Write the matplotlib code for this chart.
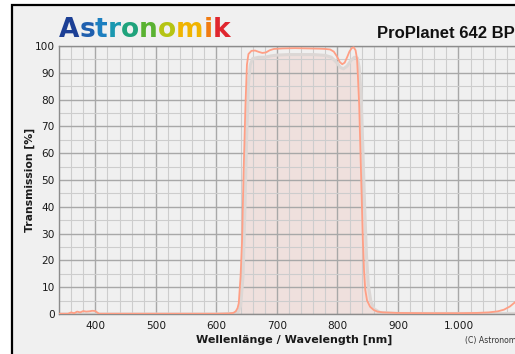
import matplotlib
matplotlib.use('Agg')
import matplotlib.pyplot as plt
from matplotlib.ticker import FixedLocator, MultipleLocator, FuncFormatter
from matplotlib.patches import Rectangle

# ProPlanet 642 BP transmission curve (orange)
wavelength = [340, 355, 360, 365, 370, 375, 380, 385, 390, 395, 400, 403, 406, 410,
              450, 500, 550, 600, 620, 628, 632, 635, 637, 640, 642.5, 645, 648,
              650.5, 653, 658, 664, 670, 676, 682, 688, 695, 710, 730, 750, 770,
              780, 788, 794, 799, 804, 808, 812, 816, 820, 824, 827, 830, 832.5,
              834, 836, 839, 842, 844, 846, 849, 854, 860, 866, 875, 900, 950,
              1000, 1030, 1050, 1065, 1075, 1085, 1094, 1100]
transmission = [0.1, 0.1, 0.6, 0.3, 0.9, 0.6, 1.1, 0.9, 1.0, 1.2, 1.1, 0.6, 0.1, 0.1,
                0.1, 0.1, 0.1, 0.1, 0.2, 0.4, 1.0, 2.2, 4.0, 14, 27.7, 52.7, 77.6,
                93, 97, 98.2, 98.3, 97.8, 97.4, 97.6, 98.4, 98.9, 99.1, 99.2, 99.1, 99.0,
                98.9, 98.7, 97.9, 96.2, 94.0, 93.2, 93.8, 95.8, 98.0, 99.3, 99.5, 98.4, 95,
                88, 77.6, 52.7, 27.7, 16, 9, 5, 2.7, 1.5, 0.9, 0.6, 0.4, 0.3,
                0.3, 0.4, 0.6, 1.0, 1.6, 2.8, 4.5, 6.0]

# Grey reference curve (shadow)
shadow_wl = [340, 600, 630, 636, 640, 644, 647, 650, 653, 656, 660, 670, 680, 690,
             700, 720, 760, 780, 790, 798, 805, 810, 816, 822, 828, 833, 836, 839,
             842, 845, 848, 851, 855, 860, 870, 900, 1100]
shadow_tr = [0, 0, 0.2, 0.8, 3, 14, 38, 66, 86, 93, 95.3, 95.8, 95.8, 96.3,
             96.6, 96.8, 96.8, 96.5, 95.8, 94, 92, 91.5, 92.5, 94.5, 95.8, 95.5, 92, 82,
             62, 40, 22, 11, 5, 2, 0.6, 0.2, 0.2]

x_ticks = [400, 500, 600, 700, 800, 900, 1000]
x_tick_labels = ['400', '500', '600', '700', '800', '900', '1.000']
y_ticks = [0, 10, 20, 30, 40, 50, 60, 70, 80, 90, 100]

W, H = 515, 354
fig = plt.figure(figsize=(W / 100, H / 100), dpi=100, facecolor='white')
fig.patches.append(Rectangle((12 / W, -0.1), 1.2, (1 - 5 / H) + 0.1,
                             transform=fig.transFigure, facecolor='#f0f0f0',
                             edgecolor='black', lw=1.6, zorder=-5))

ax = fig.add_axes([59 / W, 40 / H, 460 / W, 268 / H])
ax.set_facecolor('#f0f0f0')
ax.set_xlim(340, 1100)
ax.set_ylim(0, 100)
ax.xaxis.set_major_locator(FixedLocator(x_ticks))
ax.xaxis.set_major_formatter(FuncFormatter(
    lambda v, p: x_tick_labels[x_ticks.index(int(round(v)))] if int(round(v)) in x_ticks else ''))
ax.xaxis.set_minor_locator(MultipleLocator(20))
ax.yaxis.set_major_locator(FixedLocator(y_ticks))
ax.yaxis.set_minor_locator(MultipleLocator(5))
ax.grid(which='major', color='#a8a8a8', lw=1.0)
ax.grid(which='minor', color='#cdcdcd', lw=0.8)
ax.set_axisbelow('line')
ax.tick_params(which='both', length=0)
ax.tick_params(axis='x', pad=5, labelsize=7.6, labelcolor='#1a1a1a')
ax.tick_params(axis='y', pad=3, labelsize=7.6, labelcolor='#1a1a1a')
for s in ax.spines.values():
    s.set_color('#8c8c8c')
    s.set_linewidth(1.0)

ax.fill_between(shadow_wl, shadow_tr, 0, color='#efe0dd', lw=0, zorder=1)
ax.plot(shadow_wl, shadow_tr, color='#dcd7d5', lw=2.2, zorder=2, solid_joinstyle='round')
ax.plot(wavelength, transmission, color='#ff9f85', lw=1.3, zorder=3)

fig.text(294 / W, 1 - 340 / H, 'Wellenlänge / Wavelength [nm]', ha='center', va='center',
         fontsize=8, fontweight='bold', color='#1a1a1a')
fig.text(30 / W, 1 - 180 / H, 'Transmission [%]', ha='center', va='center', rotation=90,
         fontsize=7.8, fontweight='bold', color='#1a1a1a')
fig.text(465 / W, 1 - 341 / H, '(C) Astronomik', ha='left', va='center', fontsize=5.6,
         color='#333333')
fig.text(377 / W, 1 - 38 / H, 'ProPlanet 642 BP', ha='left', va='baseline',
         fontsize=12, fontweight='bold', family='Liberation Sans', color='#111111')

# Rainbow logo
logo = 'Astronomik'
logo_colors = ['#1c3f95', '#1f5fae', '#1c7fc0', '#1a98b0', '#1fa37c',
               '#5ab232', '#b5c414', '#f0b400', '#f07c10', '#e0262e']
r = fig.canvas.get_renderer()
x0 = 59 / W
yb = 1 - 37 / H
for i, (ch, c) in enumerate(zip(logo, logo_colors)):
    off = 0.0
    if i > 0:
        tmp = fig.text(x0, yb, logo[:i], fontsize=19, fontweight='bold', va='baseline', ha='left')
        off = tmp.get_window_extent(r).width / W
        tmp.remove()
    fig.text(x0 + off, yb, ch, fontsize=19, fontweight='bold', va='baseline', ha='left', color=c)

fig.savefig('out.png', dpi=100, facecolor='white')
